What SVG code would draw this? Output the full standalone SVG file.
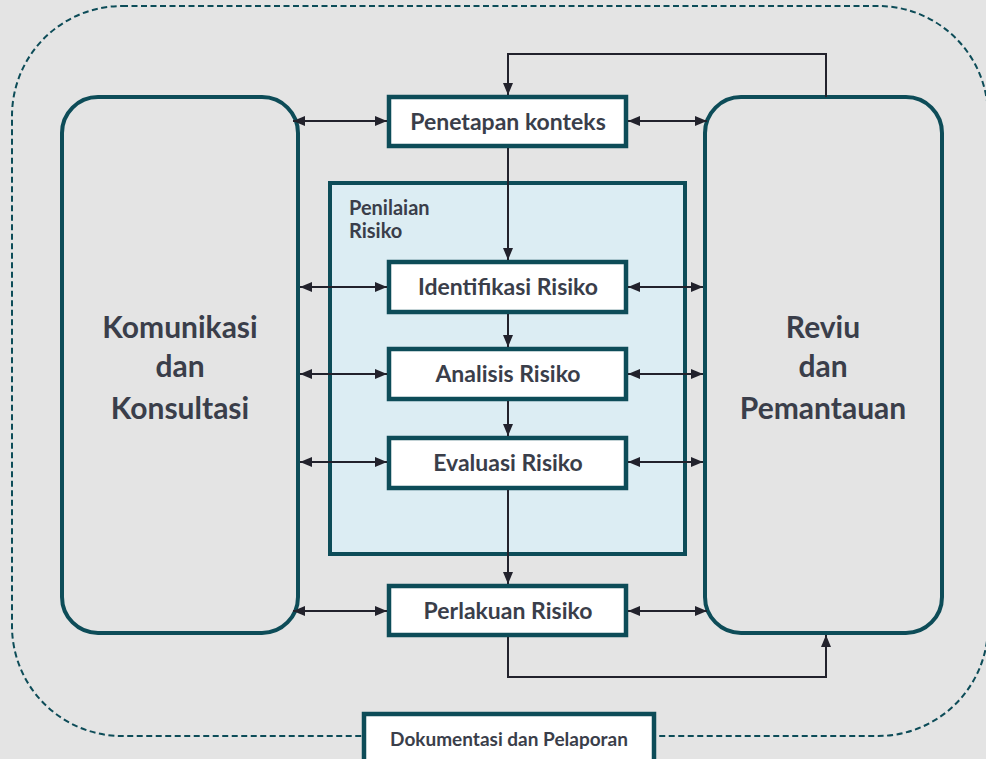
<svg xmlns="http://www.w3.org/2000/svg" width="986" height="759" viewBox="0 0 986 759">
<defs>
<marker id="ah" viewBox="0 0 12 10" refX="12" refY="5" markerWidth="12" markerHeight="10" markerUnits="userSpaceOnUse" orient="auto-start-reverse">
<path d="M0,0 L12,5 L0,10 z" fill="#22222c"/>
</marker>
<style>
.big{fill:none;stroke:#0d4c58;stroke-width:4}
.box{fill:#ffffff;stroke:#0d4c58;stroke-width:4.5}
.t{font-family:Lato,"Open Sans","Liberation Sans",sans-serif;font-weight:bold;fill:#3a3e4a;text-anchor:middle}
.c{fill:none;stroke:#22222c;stroke-width:2}
</style>
</defs>
<rect x="0" y="0" width="986" height="759" fill="#e4e4e4"/>
<rect x="12" y="6" width="976" height="730" rx="110" ry="110" fill="none" stroke="#0d4c58" stroke-width="2" stroke-dasharray="6,3.5"/>

<g id="komunikasi">
<rect class="big" x="62" y="97" width="236" height="536" rx="36"/>
<text class="t" x="180" y="338" font-size="30">Komunikasi</text>
<text class="t" x="180" y="377" font-size="30">dan</text>
<text class="t" x="180" y="419" font-size="30">Konsultasi</text>
</g>
<g id="reviu">
<rect class="big" x="705" y="97" width="237" height="536" rx="36"/>
<text class="t" x="823" y="338" font-size="30">Reviu</text>
<text class="t" x="823" y="377" font-size="30">dan</text>
<text class="t" x="823" y="419" font-size="30">Pemantauan</text>
</g>
<g id="penilaian">
<rect x="330" y="183" width="355" height="371" fill="#dcedf3" stroke="#0d4c58" stroke-width="4"/>
<text class="t" x="349" y="215" font-size="20" style="text-anchor:start">Penilaian</text>
<text class="t" x="349" y="238" font-size="20" style="text-anchor:start">Risiko</text>
</g>
<g id="penetapan">
<rect class="box" x="389" y="97" width="237" height="49"/>
<text class="t" x="508" y="130" font-size="23">Penetapan konteks</text>
</g>
<g id="identifikasi">
<rect class="box" x="389" y="262" width="237" height="50"/>
<text class="t" x="508" y="295" font-size="23">Identifikasi Risiko</text>
</g>
<g id="analisis">
<rect class="box" x="389" y="349" width="237" height="50"/>
<text class="t" x="508" y="382" font-size="23">Analisis Risiko</text>
</g>
<g id="evaluasi">
<rect class="box" x="389" y="438" width="237" height="50"/>
<text class="t" x="508" y="471" font-size="23">Evaluasi Risiko</text>
</g>
<g id="perlakuan">
<rect class="box" x="389" y="586" width="237" height="49"/>
<text class="t" x="508" y="619" font-size="23">Perlakuan Risiko</text>
</g>
<g id="dokumentasi">
<rect class="box" x="364" y="714" width="290" height="55"/>
<text class="t" x="509" y="746" font-size="19">Dokumentasi dan Pelaporan</text>
</g>

<g id="connectors">
<path class="c" d="M826,97 V54 H508 V95" marker-end="url(#ah)"/>
<path class="c" d="M508,148 V260" marker-end="url(#ah)"/>
<path class="c" d="M508,314 V347" marker-end="url(#ah)"/>
<path class="c" d="M508,401 V436" marker-end="url(#ah)"/>
<path class="c" d="M508,490 V584" marker-end="url(#ah)"/>
<path class="c" d="M508,637 V677 H826 V635" marker-end="url(#ah)"/>
<path class="c" d="M293,121 H387" marker-start="url(#ah)" marker-end="url(#ah)"/>
<path class="c" d="M300,287 H387" marker-start="url(#ah)" marker-end="url(#ah)"/>
<path class="c" d="M300,374 H387" marker-start="url(#ah)" marker-end="url(#ah)"/>
<path class="c" d="M300,462 H387" marker-start="url(#ah)" marker-end="url(#ah)"/>
<path class="c" d="M293,611 H387" marker-start="url(#ah)" marker-end="url(#ah)"/>
<path class="c" d="M628,121 H707" marker-start="url(#ah)" marker-end="url(#ah)"/>
<path class="c" d="M628,287 H703" marker-start="url(#ah)" marker-end="url(#ah)"/>
<path class="c" d="M628,374 H703" marker-start="url(#ah)" marker-end="url(#ah)"/>
<path class="c" d="M628,462 H703" marker-start="url(#ah)" marker-end="url(#ah)"/>
<path class="c" d="M628,611 H707" marker-start="url(#ah)" marker-end="url(#ah)"/>
</g>
</svg>
